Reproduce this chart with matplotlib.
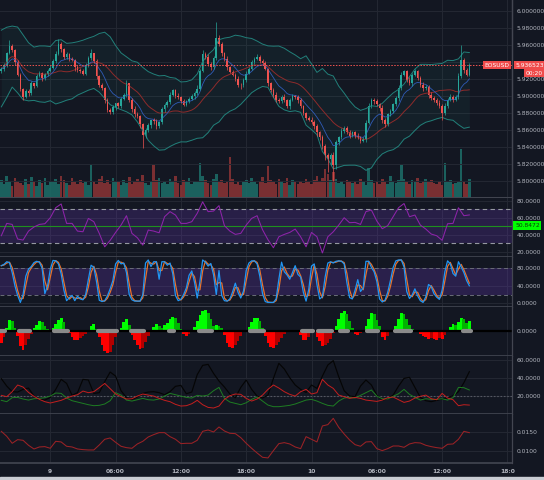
import numpy as np
import pandas as pd
import matplotlib
matplotlib.use("Agg")
import matplotlib.pyplot as plt
from matplotlib.transforms import blended_transform_factory as btf

# ---------------- data ----------------
symbol = "EOSUSD"
countdown = "00:20"
last_price = 5.936523
rsi_marker = 50.8472
first_open = 5.9290
bar_start_hours = -4.5      # first candle, hours from day "9" 00:00
bar_step_hours = 0.25       # 15-minute candles

closes = [
    5.9324, 5.9362, 5.9505, 5.9590, 5.9545, 5.9398, 5.9252, 5.9085, 5.8992, 5.9058,
    5.9031, 5.9148, 5.9122, 5.9235, 5.9268, 5.9212, 5.9256, 5.9298, 5.9335, 5.9412,
    5.9498, 5.9615, 5.9552, 5.9458, 5.9492, 5.9441, 5.9428, 5.9338, 5.9305, 5.9296,
    5.9262, 5.9365, 5.9448, 5.9502, 5.9418, 5.9232, 5.9125, 5.9098, 5.8956, 5.8838,
    5.8806, 5.8865, 5.8912, 5.8878, 5.8962, 5.9011, 5.9148, 5.8956, 5.8846, 5.8792,
    5.8768, 5.8665, 5.8534, 5.8596, 5.8658, 5.8712, 5.8705, 5.8642, 5.8688, 5.8842,
    5.8892, 5.8928, 5.9015, 5.9068, 5.9002, 5.8985, 5.8945, 5.8898, 5.8942, 5.8968,
    5.8995, 5.9035, 5.9088, 5.9292, 5.9498, 5.9462, 5.9378, 5.9342, 5.9445, 5.9688,
    5.9612, 5.9502, 5.9438, 5.9342, 5.9288, 5.9252, 5.9205, 5.9132, 5.9128, 5.9188,
    5.9265, 5.9322, 5.9398, 5.9442, 5.9462, 5.9418, 5.9385, 5.9322, 5.9148, 5.9072,
    5.9012, 5.8956, 5.8938, 5.8992, 5.8955, 5.8882, 5.8958, 5.8995, 5.8988, 5.8952,
    5.8878, 5.8802, 5.8742, 5.8722, 5.8698, 5.8646, 5.8572, 5.8512, 5.8412, 5.8302,
    5.8262, 5.8302, 5.8182, 5.8452, 5.8512, 5.8592, 5.8626, 5.8572, 5.8532, 5.8572,
    5.8532, 5.8512, 5.8472, 5.8492, 5.8684, 5.8882, 5.8956, 5.8937, 5.8902, 5.8862,
    5.8722, 5.8665, 5.8782, 5.8822, 5.8902, 5.8975, 5.9092, 5.9252, 5.9292, 5.9192,
    5.9152, 5.9252, 5.9292, 5.9212, 5.9132, 5.9092, 5.9112, 5.9012, 5.8975, 5.8956,
    5.8922, 5.8882, 5.8802, 5.8882, 5.8956, 5.8992, 5.8956, 5.8992, 5.9232, 5.9422,
    5.9305, 5.9252, 5.936523,
]

# wick lengths beyond the body, in thousandths
wick_hi = [
    2, 3, 2, 7, 2, 1, 3, 2, 1, 3,  2, 3, 1, 2, 3, 2, 1, 2, 3, 2,
    3, 6, 2, 1, 3, 2, 2, 1, 3, 2,  2, 3, 2, 5, 1, 2, 2, 3, 1, 2,
    2, 3, 1, 2, 3, 2, 4, 1, 2, 3,  2, 1, 2, 3, 2, 1, 3, 2, 2, 3,
    2, 2, 3, 2, 1, 3, 2, 2, 1, 2,  3, 2, 4, 3, 5, 2, 3, 2, 3, 19,
    3, 2, 2, 3, 1, 2, 2, 3, 2, 2,  3, 2, 3, 2, 3, 2, 2, 3, 1, 2,
    2, 3, 2, 2, 3, 1, 2, 3, 2, 2,  3, 2, 1, 2, 3, 2, 2, 1, 3, 2,
    2, 3, 4, 3, 2, 3, 2, 2, 3, 2,  2, 3, 2, 2, 3, 4, 2, 2, 3, 2,
    3, 2, 2, 3, 2, 3, 4, 3, 2, 2,  3, 2, 3, 2, 2, 3, 2, 2, 3, 2,
    2, 3, 2, 3, 2, 3, 2, 2, 4, 18, 3, 2, 2,
]
wick_lo = [
    2, 3, 2, 1, 2, 3, 2, 3, 4, 2,  3, 2, 3, 2, 1, 3, 2, 2, 1, 2,
    2, 1, 3, 2, 2, 3, 2, 4, 2, 3,  2, 1, 2, 2, 3, 3, 2, 3, 4, 3,
    2, 2, 3, 2, 2, 1, 2, 3, 3, 4,  3, 4, 15, 3, 2, 3, 4, 3, 2, 2,
    3, 2, 2, 1, 3, 2, 3, 2, 2, 3,  2, 3, 2, 2, 1, 2, 2, 3, 2, 2,
    2, 3, 2, 3, 2, 2, 3, 2, 4, 2,  2, 1, 2, 2, 2, 3, 2, 2, 3, 3,
    2, 3, 2, 2, 3, 2, 3, 2, 2, 3,  2, 3, 2, 2, 3, 4, 5, 3, 4, 6,
    16, 8, 19, 4, 3, 2, 3, 2, 3, 2,  3, 2, 3, 2, 3, 2, 2, 3, 2, 4,
    4, 3, 2, 2, 2, 2, 3, 2, 2, 3,  2, 3, 2, 2, 3, 3, 2, 3, 2, 3,
    3, 2, 8, 3, 2, 2, 3, 2, 3, 2,  3, 2, 2,
]

volume = [
    18, 14, 22, 16, 12, 20, 17, 15, 13, 19,  14, 21, 16, 12, 18, 15, 20, 13, 17, 16,
    19, 14, 22, 18, 15, 13, 20, 16, 14, 18,  15, 17, 13, 33, 16, 14, 19, 22, 15, 18,
    14, 20, 17, 16, 13, 18, 15, 21, 14, 17,  19, 16, 23, 15, 13, 17, 33, 18, 20, 15,
    16, 14, 19, 17, 22, 15, 13, 18, 16, 20,  14, 17, 16, 35, 22, 18, 15, 13, 19, 24,
    16, 18, 15, 17, 41, 19, 14, 16, 13, 17,  18, 15, 20, 16, 14, 17, 21, 15, 32, 18,
    16, 14, 19, 17, 15, 20, 13, 18, 16, 14,  17, 15, 19, 16, 14, 18, 22, 17, 20, 29,
    24, 18, 26, 19, 15, 17, 14, 18, 16, 15,  17, 14, 19, 16, 13, 30, 18, 15, 17, 14,
    19, 16, 14, 22, 17, 15, 18, 33, 19, 16,  14, 18, 16, 20, 15, 17, 19, 16, 18, 15,
    14, 17, 13, 35, 16, 18, 14, 15, 16, 49,  17, 14, 19,
]

# per-candle stochastic %K
stoch_k = [
    86, 89, 95, 93, 70, 40, 18, 2, 20, 62,  78, 84, 93, 96, 94, 80, 22, 40, 78, 98,
    97, 90, 67, 30, 6, 13, 18, 6, 16, 10,  8, 20, 55, 87, 82, 49, 7, 4, 6, 17,
    33, 52, 90, 98, 90, 92, 70, 20, 8, 5,  5, 5, 20, 92, 99, 84, 95, 95, 55, 95,
    95, 87, 92, 68, 18, 6, 9, 20, 35, 64,  74, 48, 12, 50, 99, 94, 85, 91, 65, 20,
    75, 18, 6, 5, 10, 26, 46, 25, 12, 28,  75, 92, 97, 97, 90, 62, 22, 4, 2, 2,
    2, 10, 55, 94, 72, 65, 55, 70, 86, 66,  60, 25, 5, 32, 85, 90, 43, 10, 15, 60,
    92, 95, 92, 96, 97, 96, 90, 47, 13, 10,  30, 54, 27, 35, 96, 96, 82, 72, 50, 10,
    3, 7, 25, 52, 82, 97, 99, 99, 83, 27,  11, 19, 33, 17, 6, 2, 15, 43, 38, 22,
    14, 9, 30, 72, 97, 90, 68, 62, 95, 83,  70, 52, 40,
]

squeeze_mom = [
    -12, -6, 3, 11, 10, 3, -5, -15, -19, -14,  -8, -3, 3, 6, 10, 9, 5, 2, 0, 3,
    7, 11, 13, 9, 2, -2, -6, -9, -9, -7,  -5, -3, -1, 5, 7, 2, -6, -14, -20, -22,
    -21, -14, -6, -1, 3, 9, 12, 6, -4, -9,  -14, -18, -17, -11, -5, -1, 4, 7, 5, 3,
    6, 8, 12, 14, 13, 8, 2, -3, -5, -3,  0, 4, 10, 16, 20, 21, 18, 12, 5, 6,
    5, 3, -4, -12, -16, -17, -14, -10, -5, -1,  0, 4, 9, 13, 13, 10, 3, -5, -12, -16,
    -17, -14, -11, -7, -3, -1, 0, 0, 1, 0,  -4, -9, -9, -6, -2, 0, -6, -10, -15, -14,
    -12, -8, -2, 5, 12, 18, 20, 17, 10, 3,  -3, -4, -2, 0, 5, 12, 18, 17, 11, 5,
    -6, -9, -5, -1, 0, 5, 12, 18, 17, 12,  6, 2, 0, 0, -3, -5, -6, -8, -7, -8,
    -9, -7, -8, -4, 0, 4, 7, 6, 9, 13,  12, 8, 10,
]
# candle index ranges where the squeeze marker on the zero line is grey
squeeze_grey = [(0, 1), (7, 10), (20, 24), (36, 42), (48, 52), (62, 63), (73, 77),
                (92, 96), (111, 114), (117, 121), (125, 127), (135, 138), (145, 150), (170, 172)]

# series sampled every second candle (30 min)
rsi_vals = [
    38.9, 53.5, 52.3, 35.0, 33.8, 44.4, 49.2, 52.3, 53.1, 60.2,
    72.1, 76.5, 53.5, 53.5, 44.4, 43.6, 59.4, 55.5, 41.7, 25.8,
    33.4, 42.8, 51.5, 62.6, 41.7, 36.5, 27.8, 45.6, 44.4, 42.4,
    61.4, 67.4, 63.4, 53.5, 53.5, 55.5, 65.4, 79.0, 67.4, 68.1,
    74.5, 50.8, 44.4, 40.5, 41.7, 51.5, 59.4, 62.6, 46.0, 34.2,
    24.7, 37.7, 40.5, 42.8, 46.8, 37.7, 25.8, 42.8, 37.7, 18.5,
    37.7, 43.6, 51.5, 60.2, 54.3, 54.7, 52.3, 67.4, 69.3, 56.3,
    47.2, 50.8, 61.4, 72.1, 77.0, 61.4, 63.4, 51.5, 46.8, 40.9,
    38.9, 33.5, 53.1, 53.5, 72.0, 62.6, 63.5,
]
adx_vals = [
    39.1, 30.8, 24.5, 24.1, 27.1, 28.6, 19.6, 15.9, 15.1, 18.1,
    27.1, 38.3, 33.8, 20.4, 23.4, 38.3, 37.6, 22.6, 23.4, 35.7,
    46.5, 42.0, 25.6, 17.8, 15.9, 18.5, 22.6, 24.1, 24.5, 23.4,
    21.1, 24.5, 30.5, 31.6, 22.2, 24.1, 43.6, 54.0, 55.1, 45.0,
    36.4, 29.7, 21.9, 17.8, 29.3, 37.6, 27.1, 19.6, 17.4, 20.7,
    39.4, 56.3, 49.9, 40.2, 32.0, 27.1, 23.7, 32.0, 28.2, 42.0,
    54.4, 59.3, 41.3, 25.6, 19.6, 18.9, 30.8, 37.6, 32.0, 20.7,
    15.1, 16.6, 20.7, 30.8, 39.4, 40.6, 29.3, 18.1, 14.4, 13.3,
    14.8, 16.3, 17.8, 20.0, 24.5, 34.6, 46.9,
]
plus_di = [
    14.8, 13.3, 17.8, 18.1, 16.3, 15.1, 16.6, 17.0, 17.8, 19.6,
    23.0, 22.6, 17.4, 14.4, 12.9, 11.4, 9.9, 8.8, 9.2, 10.7,
    14.4, 23.4, 20.7, 15.1, 14.0, 15.5, 17.0, 15.5, 15.1, 16.3,
    19.6, 22.6, 21.1, 19.6, 18.1, 17.4, 20.4, 19.6, 20.7, 25.6,
    29.3, 17.0, 12.9, 11.4, 9.9, 12.1, 15.9, 18.5, 14.0, 9.5,
    7.7, 7.7, 8.4, 9.2, 10.7, 12.9, 15.1, 15.9, 14.0, 11.4,
    9.2, 8.4, 14.0, 17.4, 18.1, 17.4, 20.4, 23.4, 26.4, 19.6,
    16.6, 16.3, 19.3, 22.2, 27.1, 21.5, 18.1, 15.1, 16.6, 15.9,
    15.9, 16.6, 15.1, 17.8, 29.3, 29.0, 26.4,
]
minus_di = [
    20.4, 18.9, 24.5, 32.0, 29.7, 23.7, 19.3, 15.9, 13.3, 11.8,
    13.3, 14.8, 17.4, 19.6, 21.1, 25.2, 23.4, 24.5, 29.0, 33.8,
    27.9, 21.9, 18.9, 16.3, 16.6, 19.6, 21.9, 20.7, 19.6, 17.0,
    14.8, 13.3, 10.3, 8.4, 8.8, 11.0, 14.8, 9.9, 6.9, 6.2,
    8.4, 15.9, 20.0, 21.9, 21.5, 17.0, 14.0, 16.3, 20.7, 27.1,
    32.0, 28.6, 24.5, 21.5, 19.6, 24.5, 27.1, 21.9, 23.4, 38.3,
    32.0, 28.2, 20.7, 18.9, 17.0, 18.1, 17.0, 15.1, 14.4, 13.6,
    15.1, 17.8, 18.5, 15.5, 12.5, 14.0, 17.4, 19.3, 20.7, 16.6,
    15.5, 22.6, 17.4, 15.5, 8.8, 9.9, 9.5,
]
bb_width = [
    0.01526, 0.01395, 0.01211, 0.01307, 0.01289, 0.01158, 0.01061, 0.01114, 0.01123, 0.01079,
    0.01263, 0.01246, 0.01132, 0.01114, 0.01061, 0.01044, 0.01035, 0.01035, 0.01167, 0.01316,
    0.01351, 0.01237, 0.01132, 0.01096, 0.01079, 0.01193, 0.01263, 0.01377, 0.01439, 0.01491,
    0.01491, 0.01386, 0.01316, 0.01202, 0.01211, 0.01211, 0.01289, 0.01526, 0.01561, 0.01509,
    0.01640, 0.01535, 0.01474, 0.01465, 0.01360, 0.01211, 0.01079, 0.00956, 0.00842, 0.00825,
    0.01018, 0.01202, 0.01228, 0.01193, 0.01114, 0.01070, 0.01386, 0.01316, 0.01246, 0.01667,
    0.01702, 0.01868, 0.01632, 0.01456, 0.01298, 0.01175, 0.01132, 0.01246, 0.01254, 0.01070,
    0.01018, 0.01070, 0.01140, 0.01140, 0.01105, 0.01193, 0.01228, 0.01219, 0.01158, 0.01123,
    0.01096, 0.01079, 0.01184, 0.01193, 0.01316, 0.01526, 0.01491,
]

time_ticks = [0, 6, 12, 18, 24, 30, 36, 42]
time_labels = ["9", "06:00", "12:00", "18:00", "10", "06:00", "12:00", "18:0"]
price_ticks = [5.80, 5.82, 5.84, 5.86, 5.88, 5.90, 5.92, 5.94, 5.96, 5.98, 6.00]
rsi_ticks = [20, 40, 60, 80]
stoch_ticks = [0, 40, 80]
dmi_ticks = [20, 40, 60]
bbw_ticks = [0.0100, 0.0150]

# ---------------- derived series ----------------
n = len(closes)
t = bar_start_hours + bar_step_hours * np.arange(n)
t2 = t[::2]
c = np.array(closes)
o = np.r_[first_open, c[:-1]]
h = np.maximum(o, c) + np.array(wick_hi) / 1000.0
l = np.minimum(o, c) - np.array(wick_lo) / 1000.0
up = c >= o
cs = pd.Series(c)

basis = cs.rolling(20, min_periods=1).mean().to_numpy()
bw = np.array(bb_width)
bb_up = basis[::2] * (1 + bw / 2)
bb_lo = basis[::2] * (1 - bw / 2)
ema_fast = cs.ewm(span=9, adjust=False).mean()
stoch_d = pd.Series(stoch_k, dtype=float).rolling(2, min_periods=1).mean()

# ---------------- style ----------------
BG = "#131722"
GRID = "#242833"
SEP = "#434651"
TXT = "#b2b5be"
UPC = "#26a69a"
DNC = "#ef5350"
FS = 4.3
W, H = 544, 480
XL = (-4.62, 42.42)

fig = plt.figure(figsize=(W / 100, H / 100), dpi=100, facecolor=BG)


def make_ax(y0, y1, face=BG):
    ax = fig.add_axes([0, 1 - y1 / H, 512 / W, (y1 - y0) / H])
    ax.set_facecolor(face)
    ax.set_xlim(*XL)
    for s in ("top", "left"):
        ax.spines[s].set_visible(False)
    ax.spines["right"].set_color(SEP)
    ax.spines["bottom"].set_color(SEP)
    ax.spines["right"].set_linewidth(0.9)
    ax.spines["bottom"].set_linewidth(1.2)
    ax.yaxis.tick_right()
    ax.tick_params(axis="y", length=0, pad=3.2, labelsize=FS, labelcolor=TXT)
    ax.tick_params(axis="x", length=0, labelbottom=False)
    ax.set_xticks(time_ticks)
    ax.grid(True, color=GRID, lw=0.7)
    ax.set_axisbelow(True)
    return ax


# price + volume
axv = make_ax(0, 198)
axv.set_ylim(0, 198)
axv.set_yticks([])
vcol = [("#1d6f69" if u else "#8c3435") for u in up]
axv.bar(t, volume, width=0.24, color=vcol, alpha=0.85, linewidth=0)

ax1 = make_ax(0, 198)
ax1.patch.set_alpha(0)
ax1.grid(axis="x", visible=False)
ax1.set_ylim(5.7796, 6.0133)
ax1.set_yticks(price_ticks)
ax1.set_yticklabels(["" if abs(v - 5.94) < 1e-9 else f"{v:.6f}" for v in price_ticks])
ax1.fill_between(t2, bb_lo, bb_up, color="#2a9d8f", alpha=0.07, lw=0)
ax1.plot(t2, bb_up, color="#22807a", lw=0.7)
ax1.plot(t2, bb_lo, color="#22807a", lw=0.7)
ax1.plot(t, basis, color="#8e2b2b", lw=0.7)
ax1.plot(t, ema_fast, color="#2f5bb7", lw=0.6)
ccol = [(UPC if u else DNC) for u in up]
ax1.vlines(t, l, h, colors=ccol, lw=0.5)
ax1.bar(t, np.maximum(np.abs(c - o), 0.0005), bottom=np.minimum(o, c), width=0.15, color=ccol, lw=0)
ax1.axhline(last_price, color="#ef5350", lw=0.7, ls=(0, (1.5, 1.5)))
tr1 = btf(ax1.transAxes, ax1.transData)
box = dict(boxstyle="square,pad=0.28", fc="#f04b4b", ec="none")
ax1.text(509.5 / 512, last_price, symbol, transform=tr1, ha="right", va="center",
         fontsize=FS, color="white", bbox=box)
ax1.text(1 + 3.5 / 512, last_price, f"{last_price:.6f}", transform=tr1, ha="left", va="center",
         fontsize=FS, color="white", bbox=box, clip_on=False, zorder=20)
ax1.text(1 + 14 / 512, 5.9268, countdown, transform=tr1, ha="left", va="center",
         fontsize=FS, color="white", bbox=box, clip_on=False, zorder=20)

# RSI
ax2 = make_ax(198, 257)
ax2.set_ylim(13.73, 83.55)
ax2.set_yticks(rsi_ticks)
ax2.set_yticklabels([f"{v:.4f}" for v in rsi_ticks])
ax2.axhspan(30, 70, color="#673ab7", alpha=0.25, lw=0)
ax2.axhline(70, color="#9598a1", lw=0.8, ls=(0, (4, 3)))
ax2.axhline(30, color="#9598a1", lw=0.8, ls=(0, (4, 3)))
ax2.axhline(rsi_marker, color="#1f8f1f", lw=0.8)
ax2.plot(t2, rsi_vals, color="#8e24aa", lw=0.75)
tr2 = btf(ax2.transAxes, ax2.transData)
ax2.text(1 + 3 / 512, rsi_marker, f"{rsi_marker:.4f}", transform=tr2, ha="left", va="center",
         fontsize=FS, color="#0b3d0b", clip_on=False,
         bbox=dict(boxstyle="square,pad=0.28", fc="#00ff00", ec="none"))

# Stochastic
ax3 = make_ax(257, 306.5)
ax3.set_ylim(-7.3, 105.8)
ax3.set_yticks(stoch_ticks)
ax3.set_yticklabels([f"{v:.4f}" for v in stoch_ticks])
ax3.axhspan(20, 80, color="#673ab7", alpha=0.28, lw=0)
ax3.axhline(80, color="#6a6d78", lw=0.7, ls=(0, (4, 3)))
ax3.axhline(20, color="#6a6d78", lw=0.7, ls=(0, (4, 3)))
ax3.plot(t, stoch_d, color="#e8712a", lw=0.9)
ax3.plot(t, stoch_k, color="#2196f3", lw=0.9)

# Squeeze momentum
ax4 = make_ax(306.5, 356)
ax4.set_ylim(-25.3, 24.2)
ax4.set_yticks([0])
ax4.set_yticklabels(["0.0000"])
sm = np.array(squeeze_mom, dtype=float)
prev = np.r_[sm[0], sm[:-1]]
scol = []
for v, p in zip(sm, prev):
    if v >= 0:
        scol.append("#00ff00" if v >= p else "#00b400")
    else:
        scol.append("#ff0000" if v <= p else "#b30000")
ax4.bar(t, sm, width=0.26, color=scol, lw=0)
ax4.axhline(0, color="#000000", lw=1.6)
for a, b in squeeze_grey:
    ax4.plot([t[a] - 0.12, t[b] + 0.12], [0, 0], color="#8a8a8a", lw=3.0, solid_capstyle="round")

# DMI
ax5 = make_ax(356, 414.3)
ax5.set_ylim(-0.84, 64.5)
ax5.set_yticks(dmi_ticks)
ax5.set_yticklabels([f"{v:.4f}" for v in dmi_ticks])
ax5.axhline(20, color="#555862", lw=0.8, ls=(0, (1.5, 1.5)))
ax5.plot(t2, adx_vals, color="#050505", lw=0.85)
ax5.plot(t2, plus_di, color="#1e7d22", lw=0.7)
ax5.plot(t2, minus_di, color="#c41f1f", lw=0.7)

# Bollinger band width
ax6 = make_ax(414.3, 463.3)
ax6.set_ylim(0.00684, 0.01974)
ax6.set_yticks(bbw_ticks)
ax6.set_yticklabels([f"{v:.4f}" for v in bbw_ticks])
ax6.plot(t2, bb_width, color="#9b2226", lw=0.75)
ax6.tick_params(axis="x", labelbottom=True, labelsize=FS, labelcolor=TXT, pad=4)
ax6.set_xticklabels(time_labels, fontweight="bold")

fig.patches.append(plt.Rectangle((0, 0), 1, 3 / H, transform=fig.transFigure,
                                 color="#c9ccd3", zorder=10))
fig.savefig("out.png", dpi=100, facecolor=BG)
